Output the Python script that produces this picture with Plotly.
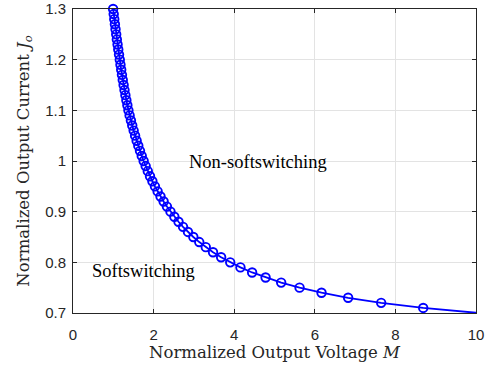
import plotly.graph_objects as go

# Normalized output current J_o (marker levels) and the corresponding normalized output voltage M
J_values = [0.70, 0.71, 0.72, 0.73, 0.74, 0.75, 0.76, 0.77, 0.78, 0.79, 0.80,
            0.81, 0.82, 0.83, 0.84, 0.85, 0.86, 0.87, 0.88, 0.89, 0.90,
            0.91, 0.92, 0.93, 0.94, 0.95, 0.96, 0.97, 0.98, 0.99, 1.00,
            1.01, 1.02, 1.03, 1.04, 1.05, 1.06, 1.07, 1.08, 1.09, 1.10,
            1.11, 1.12, 1.13, 1.14, 1.15, 1.16, 1.17, 1.18, 1.19, 1.20,
            1.21, 1.22, 1.23, 1.24, 1.25, 1.26, 1.27, 1.28, 1.29, 1.30]
M_values = [10.06, 8.690, 7.647, 6.827, 6.167, 5.622, 5.166, 4.779, 4.445, 4.155, 3.901,
            3.676, 3.475, 3.295, 3.133, 2.986, 2.853, 2.730, 2.618, 2.515, 2.419,
            2.331, 2.249, 2.172, 2.100, 2.033, 1.970, 1.911, 1.856, 1.803, 1.753,
            1.706, 1.662, 1.620, 1.579, 1.541, 1.505, 1.470, 1.437, 1.405, 1.375,
            1.349, 1.324, 1.300, 1.278, 1.256, 1.235, 1.215, 1.196, 1.178, 1.161,
            1.142, 1.123, 1.106, 1.088, 1.072, 1.055, 1.040, 1.024, 1.010, 0.995]

x_ticks = [0, 2, 4, 6, 8, 10]
y_ticks = [0.7, 0.8, 0.9, 1.0, 1.1, 1.2, 1.3]
y_tick_labels = ["0.7", "0.8", "0.9", "1", "1.1", "1.2", "1.3"]

region_labels = ["Non-softswitching", "Softswitching"]
region_x = [2.83, 0.41]
region_y = [0.999, 0.782]

fig = go.Figure()
# line (clipped to the axes box)
fig.add_trace(go.Scatter(
    x=M_values, y=J_values, mode="lines",
    line=dict(color="#0000FF", width=1.8),
    showlegend=False, hoverinfo="skip",
))
# markers (only the points inside the x range; not clipped at the box edge)
marker_pts = [(m, j) for m, j in zip(M_values, J_values) if m <= 10]
fig.add_trace(go.Scatter(
    x=[p[0] for p in marker_pts], y=[p[1] for p in marker_pts], mode="markers",
    marker=dict(symbol="circle-open", size=8.5, color="#0000FF", line=dict(width=1.9, color="#0000FF")),
    cliponaxis=False, showlegend=False,
))

for t, xx, yy in zip(region_labels, region_x, region_y):
    fig.add_annotation(x=xx, y=yy, text=t, showarrow=False, xanchor="left", yanchor="middle",
                       font=dict(family="Liberation Serif", size=18.5, color="black"))

axis_common = dict(
    showline=True, linecolor="#262626", linewidth=1, mirror="ticks",
    ticks="inside", ticklen=4, tickcolor="#262626",
    showgrid=True, gridcolor="#E3E3E3", gridwidth=1, zeroline=False,
    tickfont=dict(family="Liberation Sans", size=15, color="#262626"),
    automargin=False,
)

fig.update_xaxes(range=[0, 10], tickvals=x_ticks, ticktext=[str(v) for v in x_ticks],
                 ticklabelstandoff=8,
                 title=dict(text="Normalized Output Voltage <i>M</i>", standoff=4,
                            font=dict(family="DejaVu Serif", size=16.5, color="#262626")),
                 **axis_common)
fig.update_yaxes(range=[0.7, 1.3], tickvals=y_ticks, ticktext=y_tick_labels,
                 ticklabelstandoff=3,
                 title=dict(text="Normalized Output Current <i>J<sub>o</sub></i>", standoff=11,
                            font=dict(family="DejaVu Serif", size=16.5, color="#262626")),
                 **axis_common)

fig.update_layout(
    width=493, height=373,
    margin=dict(l=73, r=17, t=9, b=60),
    plot_bgcolor="white", paper_bgcolor="white",
)

fig.write_html("out.html", config={"displayModeBar": False},
               post_script="document.body.style.margin='0';document.body.style.padding='0';")
